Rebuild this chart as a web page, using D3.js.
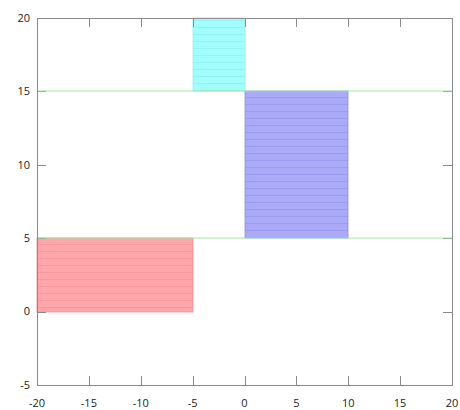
<!DOCTYPE html>
<html><head><meta charset="utf-8">
<script src="https://cdn.jsdelivr.net/npm/d3@7"></script>
<style>body{margin:0;background:#fff}</style>
</head><body>
<svg id="c" width="460" height="410"></svg>
<script>
const rectX0 = [-20, 0, -5];
const rectX1 = [-5, 10, 0];
const rectY0 = [0, 5, 15];
const rectY1 = [5, 15, 20];
const rectFill = ["#ffa6aa", "#aaaaf9", "#a2fdfd"];
const rectStripe = ["#f49aa0", "#9c9cee", "#96f2f2"];
const rectEdge = ["#f09096", "#9090e6", "#96f0f0"];
const hLines = [5, 15];
const xTicks = [-20, -15, -10, -5, 0, 5, 10, 15, 20];
const yTicks = [-5, 0, 5, 10, 15, 20];

const svg = d3.select("#c");
const L = 37, R = 452, T = 18, B = 385;
const x = d3.scaleLinear().domain([-20, 20]).range([L, R]);
const y = d3.scaleLinear().domain([-5, 20]).range([B, T]);
const px = v => Math.round(v) + 0.5;

const defs = svg.append("defs");
rectFill.forEach((c, i) => {
  const p = defs.append("pattern").attr("id", "p" + i)
    .attr("patternUnits", "userSpaceOnUse").attr("width", 8).attr("height", 7);
  p.append("rect").attr("width", 8).attr("height", 7).attr("fill", c);
  p.append("rect").attr("y", 6).attr("width", 8).attr("height", 1).attr("fill", rectStripe[i]);
});

svg.append("g").selectAll("rect").data(rectX0).join("rect")
  .attr("x", (d, i) => Math.round(x(rectX0[i])))
  .attr("y", (d, i) => Math.round(y(rectY1[i])))
  .attr("width", (d, i) => Math.round(x(rectX1[i])) - Math.round(x(rectX0[i])))
  .attr("height", (d, i) => Math.round(y(rectY0[i])) - Math.round(y(rectY1[i])))
  .attr("fill", (d, i) => `url(#p${i})`)
  .attr("stroke", (d, i) => rectEdge[i]).attr("stroke-width", 0.8);

const axisColor = "#8a8a8a";
const tick = 9;
const g = svg.append("g").attr("stroke", axisColor).attr("stroke-width", 1).attr("fill", "none");
g.append("rect").attr("x", L + 0.5).attr("y", T + 0.5).attr("width", R - L).attr("height", B - T);
g.selectAll(".xb").data(xTicks).join("line")
  .attr("x1", d => px(x(d))).attr("x2", d => px(x(d))).attr("y1", B).attr("y2", B - tick);
g.selectAll(".xt").data(xTicks).join("line")
  .attr("x1", d => px(x(d))).attr("x2", d => px(x(d))).attr("y1", T).attr("y2", T + tick);
g.selectAll(".yl").data(yTicks).join("line")
  .attr("x1", L).attr("x2", L + tick).attr("y1", d => px(y(d))).attr("y2", d => px(y(d)));
g.selectAll(".yr").data(yTicks).join("line")
  .attr("x1", R).attr("x2", R - tick).attr("y1", d => px(y(d))).attr("y2", d => px(y(d)));

svg.append("g").selectAll("line").data(hLines).join("line")
  .attr("x1", L + 1).attr("x2", R)
  .attr("y1", d => Math.round(y(d))).attr("y2", d => Math.round(y(d)))
  .attr("stroke", "#a2eaa2").attr("stroke-width", 1.2);

const font = "'Open Sans', sans-serif";
svg.append("g").selectAll("text").data(xTicks).join("text")
  .attr("x", d => x(d)).attr("y", 407)
  .attr("text-anchor", "middle").attr("font-family", font).attr("font-size", 11)
  .attr("fill", "#222").text(d => String(d));
svg.append("g").selectAll("text").data(yTicks).join("text")
  .attr("x", 30).attr("y", d => y(d)).attr("dy", "0.35em")
  .attr("text-anchor", "end").attr("font-family", font).attr("font-size", 11)
  .attr("fill", "#222").text(d => String(d));
</script>
</body></html>
